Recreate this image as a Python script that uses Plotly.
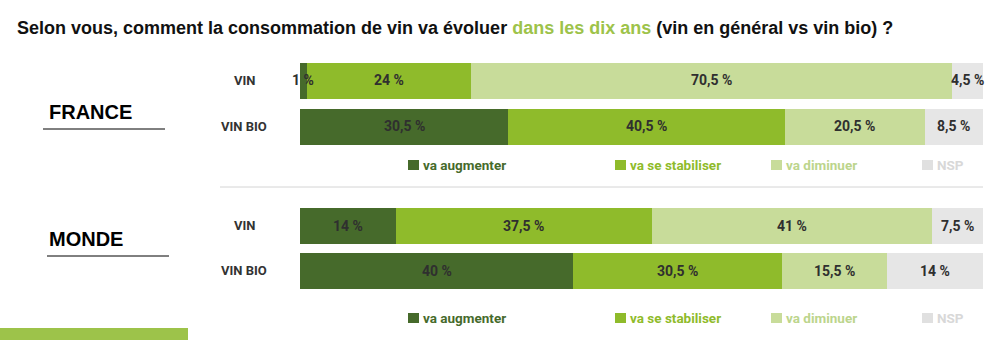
import plotly.graph_objects as go

# ---- data ----
rows = ["VIN", "VIN BIO"]
series_names = ["va augmenter", "va se stabiliser", "va diminuer", "NSP"]
france_vin = [1, 24, 70.5, 4.5]
france_vinbio = [30.5, 40.5, 20.5, 8.5]
monde_vin = [14, 37.5, 41, 7.5]
monde_vinbio = [40, 30.5, 15.5, 14]
panels = ["FRANCE", "MONDE"]

colors = ["#466a2b", "#8fbb2b", "#c8dc9a", "#e6e6e6"]
legend_text_colors = ["#466a2b", "#8fbb2b", "#bcd58c", "#d8d8d8"]

W, H = 1000, 340
COND = "Roboto, sans-serif"
ARIAL = "Liberation Sans, Arial, sans-serif"

def py(pix):
    return (H - pix) / H

def px(pix):
    return pix / W

def fmt(v):
    s = ("%g" % v).replace(".", ",")
    return s + " %"

fig = go.Figure()

panel_data = [(france_vin, france_vinbio), (monde_vin, monde_vinbio)]
axes = [("x", "y"), ("x2", "y2")]

annotations = []
for p, (vin, vinbio) in enumerate(panel_data):
    xa, ya = axes[p]
    for k, name in enumerate(series_names):
        vals = [vin[k], vinbio[k]]
        fig.add_trace(go.Bar(
            y=[0, 1], x=vals, orientation="h", name=name,
            marker=dict(color=colors[k], line=dict(width=0)),
            width=0.8, xaxis=xa, yaxis=ya, showlegend=False,
            hoverinfo="skip",
        ))
    # value labels
    for r, vals in enumerate([vin, vinbio]):
        cum = 0
        for k, v in enumerate(vals):
            annotations.append(dict(
                x=cum + v / 2, y=r, xref=xa, yref=ya, text="<b>%s</b>" % fmt(v),
                showarrow=False, font=dict(family=COND, size=14, color="#2f2f2f"),
                xanchor="center", yanchor="middle",
            ))
            cum += v
    # row labels
    for r, lab in enumerate(rows):
        annotations.append(dict(
            x=px(244), y=r, xref="paper", yref=ya, text="<b>%s</b>" % lab,
            showarrow=False, font=dict(family=COND, size=13, color="#333333"),
            xanchor="center", yanchor="middle",
        ))

# panel titles
panel_pos = [(47, 112, 43, 165, 129), (47, 239, 47, 169, 256)]
shapes = []
for name, (tx, ty, lx0, lx1, ly) in zip(panels, panel_pos):
    annotations.append(dict(
        x=px(tx), y=py(ty), xref="paper", yref="paper", text="<b>%s</b>" % name,
        showarrow=False, font=dict(family=ARIAL, size=20, color="#000000"),
        xanchor="left", yanchor="middle",
    ))
    shapes.append(dict(type="line", xref="paper", yref="paper",
                       x0=px(lx0), x1=px(lx1), y0=py(ly), y1=py(ly),
                       line=dict(color="#000000", width=1)))

# legends
leg_sq_x = [408, 615, 771, 922]
for ly in [165, 318]:
    for k, name in enumerate(series_names):
        x0 = leg_sq_x[k]
        shapes.append(dict(type="rect", xref="paper", yref="paper",
                           x0=px(x0), x1=px(x0 + 11), y0=py(ly + 5), y1=py(ly - 5),
                           fillcolor=colors[k] if k < 3 else "#e0e0e0", line=dict(width=0)))
        annotations.append(dict(
            x=px(x0 + 13), y=py(ly), xref="paper", yref="paper", text="<b>%s</b>" % name,
            showarrow=False, font=dict(family=COND, size=13.5, color=legend_text_colors[k]),
            xanchor="left", yanchor="middle",
        ))

# separator line
shapes.append(dict(type="line", xref="paper", yref="paper",
                   x0=px(220), x1=px(983), y0=py(187), y1=py(187),
                   line=dict(color="#d4d4d4", width=1)))
# bottom-left green band
shapes.append(dict(type="rect", xref="paper", yref="paper",
                   x0=0, x1=px(188), y0=0, y1=py(328),
                   fillcolor="#9dc34a", line=dict(width=0)))

# title
annotations.append(dict(
    x=px(15), y=py(28), xref="paper", yref="paper",
    text="<b>Selon vous, comment la consommation de vin va évoluer "
         "<span style='color:#9dc34a'>dans les dix ans</span> (vin en général vs vin bio) ?</b>",
    showarrow=False, font=dict(family=ARIAL, size=18, color="#111111"),
    xanchor="left", yanchor="middle",
))

xdom = [px(300), px(983)]
fig.update_layout(
    width=W, height=H, margin=dict(l=0, r=0, t=0, b=0),
    paper_bgcolor="white", plot_bgcolor="white",
    barmode="stack", bargap=0,
    xaxis=dict(domain=xdom, range=[0, 100], visible=False, fixedrange=True),
    yaxis=dict(domain=[py(149.5), py(57.5)], range=[1.5, -0.5], visible=False, fixedrange=True),
    xaxis2=dict(domain=xdom, range=[0, 100], visible=False, anchor="y2", fixedrange=True),
    yaxis2=dict(domain=[py(293), py(203)], range=[1.5, -0.5], visible=False, anchor="x2", fixedrange=True),
    annotations=annotations, shapes=shapes,
    showlegend=False,
)

fig.write_html("out.html", config={"displayModeBar": False})
